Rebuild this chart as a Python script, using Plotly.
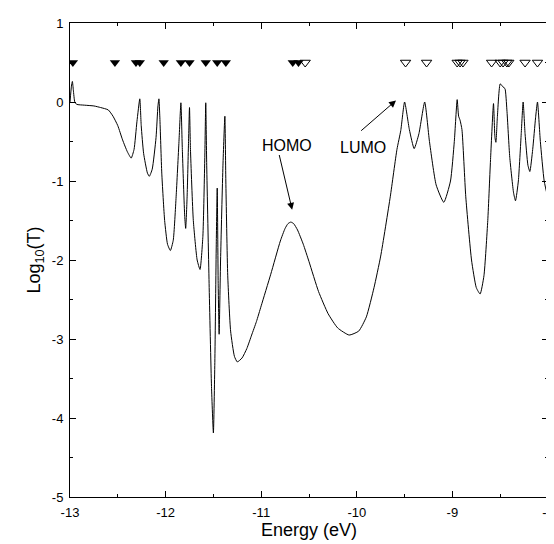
import plotly.graph_objects as go

# transmission curve (Energy in eV, log10 T)
energy = [
    -13.00, -12.985, -12.975, -12.965, -12.95, -12.93, -12.85, -12.75, -12.68, -12.60,
    -12.55, -12.50, -12.45, -12.40, -12.36, -12.33, -12.30, -12.27, -12.255, -12.23,
    -12.19, -12.17, -12.14, -12.10, -12.08, -12.07, -12.06, -12.04, -12.01, -11.98,
    -11.95, -11.92, -11.89, -11.86, -11.84, -11.825, -11.80, -11.79, -11.775, -11.76,
    -11.75, -11.74, -11.71, -11.67, -11.64, -11.61, -11.59, -11.58, -11.57, -11.545,
    -11.52, -11.50, -11.485, -11.47, -11.46, -11.45, -11.44, -11.425, -11.40, -11.38,
    -11.37, -11.35, -11.32, -11.28, -11.25, -11.20, -11.15, -11.10, -11.05, -11.00,
    -10.90, -10.80, -10.75, -10.72, -10.69, -10.66, -10.62, -10.56, -10.50, -10.40,
    -10.30, -10.20, -10.08, -9.98, -9.90, -9.82, -9.75, -9.65, -9.58, -9.54,
    -9.50, -9.45, -9.40, -9.35, -9.29, -9.24, -9.17, -9.09, -9.02, -8.98,
    -8.95, -8.935, -8.92, -8.90, -8.86, -8.80, -8.75, -8.71, -8.67, -8.63,
    -8.60, -8.57, -8.555, -8.545, -8.53, -8.50, -8.47, -8.45, -8.43, -8.40,
    -8.36, -8.34, -8.31, -8.28, -8.26, -8.24, -8.21, -8.19, -8.16, -8.13,
    -8.11, -8.08, -8.04, -8.00,
]
log_t = [
    0.00, 0.20, 0.26, 0.15, 0.00, -0.03, -0.04, -0.05, -0.07, -0.10,
    -0.18, -0.30, -0.48, -0.63, -0.71, -0.60, -0.25, 0.04, -0.30, -0.65,
    -0.90, -0.94, -0.85, -0.45, -0.05, 0.04, -0.20, -0.90, -1.50, -1.80,
    -1.88, -1.75, -1.20, -0.50, -0.01, -0.60, -1.45, -1.60, -1.20, -0.50,
    -0.07, -0.60, -1.50, -2.00, -2.12, -1.70, -0.70, -0.01, -0.80, -2.30,
    -3.60, -4.19, -3.30, -1.80, -1.09, -2.30, -2.94, -2.00, -0.80, -0.18,
    -1.00, -2.20, -2.90, -3.22, -3.29, -3.24, -3.12, -2.95, -2.78, -2.58,
    -2.18, -1.76, -1.60, -1.54, -1.52, -1.54, -1.62, -1.80, -2.02, -2.40,
    -2.68, -2.86, -2.95, -2.90, -2.72, -2.35, -1.95, -1.20, -0.60, -0.36,
    0.00, -0.35, -0.59, -0.40, 0.00, -0.50, -1.05, -1.27, -1.00, -0.50,
    0.03, -0.18, -0.23, -0.35, -1.20, -2.00, -2.35, -2.43, -2.20, -1.50,
    -0.70, -0.02, -0.45, -0.51, -0.20, 0.23, 0.19, 0.17, -0.10, -0.70,
    -1.15, -1.25, -1.00, -0.40, 0.00, -0.40, -0.80, -0.88, -0.60, -0.20,
    0.00, -0.50, -1.00, -1.22,
]

# molecular levels shown as triangles at log T = 0.5
occupied = [-12.97, -12.53, -12.31, -12.27, -12.02, -11.84, -11.75, -11.58, -11.46, -11.37,
            -10.67, -10.61]
unoccupied = [-10.54, -9.49, -9.27, -8.95, -8.92, -8.89, -8.59, -8.50, -8.47, -8.43,
              -8.41, -8.24, -8.11]
level_y = 0.5

# tick labels (plain hyphen minus, as in the reference)
x_ticks = [-13, -12, -11, -10, -9, -8]
x_ticktext = ["-13", "-12", "-11", "-10", "-9", "-8"]
y_ticks = [-5, -4, -3, -2, -1, 0, 1]
y_ticktext = ["-5", "-4", "-3", "-2", "-1", "0", "1"]

font = "Arial, Liberation Sans, sans-serif"

fig = go.Figure()
fig.add_trace(go.Scatter(x=energy, y=log_t, mode="lines",
                         line=dict(color="black", width=1, shape="spline", smoothing=0.5),
                         showlegend=False))
fig.add_trace(go.Scatter(x=occupied, y=[level_y] * len(occupied), mode="markers",
                         marker=dict(symbol="triangle-down", size=9, color="black"),
                         showlegend=False))
fig.add_trace(go.Scatter(x=unoccupied, y=[level_y] * len(unoccupied), mode="markers",
                         marker=dict(symbol="triangle-down-open", size=9, color="black",
                                     line=dict(width=1)),
                         showlegend=False))

# arrows + labels
fig.add_annotation(x=-10.676, y=-1.365, ax=-10.815, ay=-0.652, axref="x", ayref="y",
                   text="", showarrow=True, arrowhead=2, arrowsize=1.4, arrowwidth=1,
                   arrowcolor="black")
fig.add_annotation(x=-9.59, y=0.02, ax=-9.97, ay=-0.38, axref="x", ayref="y",
                   text="", showarrow=True, arrowhead=2, arrowsize=1.4, arrowwidth=1,
                   arrowcolor="black")
fig.add_annotation(x=-10.73, y=-0.55, text="HOMO", showarrow=False,
                   font=dict(size=16, color="black", family=font))
fig.add_annotation(x=-9.94, y=-0.57, text="LUMO", showarrow=False,
                   font=dict(size=16, color="black", family=font))

axis_style = dict(showline=True, linecolor="black", linewidth=1, mirror="ticks",
                  ticks="inside", ticklen=6, tickcolor="black", showgrid=False,
                  zeroline=False, tickfont=dict(size=13, color="black", family=font),
                  ticklabelstandoff=3)

fig.update_xaxes(range=[-13, -8], tickmode="array", tickvals=x_ticks, ticktext=x_ticktext,
                 minor=dict(dtick=0.5, ticks="inside", ticklen=3, tickcolor="black"),
                 title=dict(text="Energy (eV)", font=dict(size=18, color="black", family=font),
                            standoff=3),
                 **axis_style)
fig.update_yaxes(range=[-5, 1], tickmode="array", tickvals=y_ticks, ticktext=y_ticktext,
                 minor=dict(dtick=0.5, ticks="inside", ticklen=3, tickcolor="black"),
                 title=dict(text="Log<sub>10</sub>(T)", font=dict(size=18, color="black", family=font),
                            standoff=6),
                 **axis_style)

fig.update_layout(width=554, height=544, plot_bgcolor="white", paper_bgcolor="white",
                  margin=dict(l=62, r=8, t=12, b=55), font=dict(family=font))

fig.write_html("out.html")
